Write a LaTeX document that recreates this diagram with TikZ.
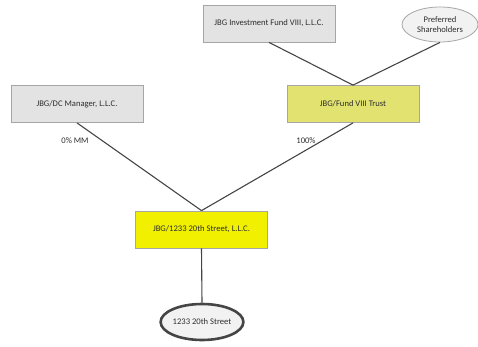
\documentclass[tikz,border=0pt]{standalone}
\usepackage{fontspec}
\setmainfont{Carlito}
\usetikzlibrary{shapes.geometric}
\definecolor{txt}{HTML}{2E2E2E}
\definecolor{ln}{HTML}{454545}
\definecolor{bordergrey}{HTML}{A6A6A6}
\definecolor{greyfill}{HTML}{E3E3E3}
\definecolor{trustfill}{HTML}{E2E270}
\definecolor{streetfill}{HTML}{F0F000}
\definecolor{ellfill}{HTML}{F2F2F2}
\tikzset{
  base/.style={font=\fontsize{8.6}{10}\selectfont, text=txt, align=center, inner sep=1pt},
  greybox/.style={base, rectangle, draw=bordergrey, line width=0.8pt, fill=greyfill, minimum width=132pt, minimum height=37pt},
  trustbox/.style={greybox, fill=trustfill},
  streetbox/.style={greybox, fill=streetfill},
  prefell/.style={base, ellipse, draw=bordergrey, line width=0.8pt, fill=ellfill, minimum width=76pt, minimum height=35pt, inner sep=0pt},
  propell/.style={base, ellipse, draw=ln, line width=2.6pt, fill=ellfill, minimum width=75pt, minimum height=36pt, inner sep=0pt},
  conn/.style={draw=ln, line width=1.1pt},
  lbl/.style={base}
}
\begin{document}
\begin{tikzpicture}[x=1pt,y=-1pt]
\useasboundingbox (0,0) rectangle (478,347);
\node[greybox] (inv) at (269,23.5) {JBG Investment Fund VIII, L.L.C.};
\node[prefell] (pref) at (440,24.5) {Preferred\\Shareholders};
\node[greybox] (dc) at (77,104) {JBG/DC Manager, L.L.C.};
\node[trustbox] (trust) at (353,104) {JBG/Fund VIII Trust};
\node[streetbox] (llc) at (201.5,229.5) {JBG/1233 20th Street, L.L.C.};
\node[propell] (prop) at (202,322) {1233 20th Street};
\draw[conn] (inv.south) -- (trust.north);
\draw[conn] (pref.south) -- (trust.north);
\draw[conn] (dc.south) -- (llc.north);
\draw[conn] (trust.south) -- (llc.north);
\draw[conn] (llc.south) -- (prop.north);
\node[lbl] (l0) at (75,141) {0\% MM};
\node[lbl] (l1) at (306,141) {100\%};
\end{tikzpicture}
\end{document}
